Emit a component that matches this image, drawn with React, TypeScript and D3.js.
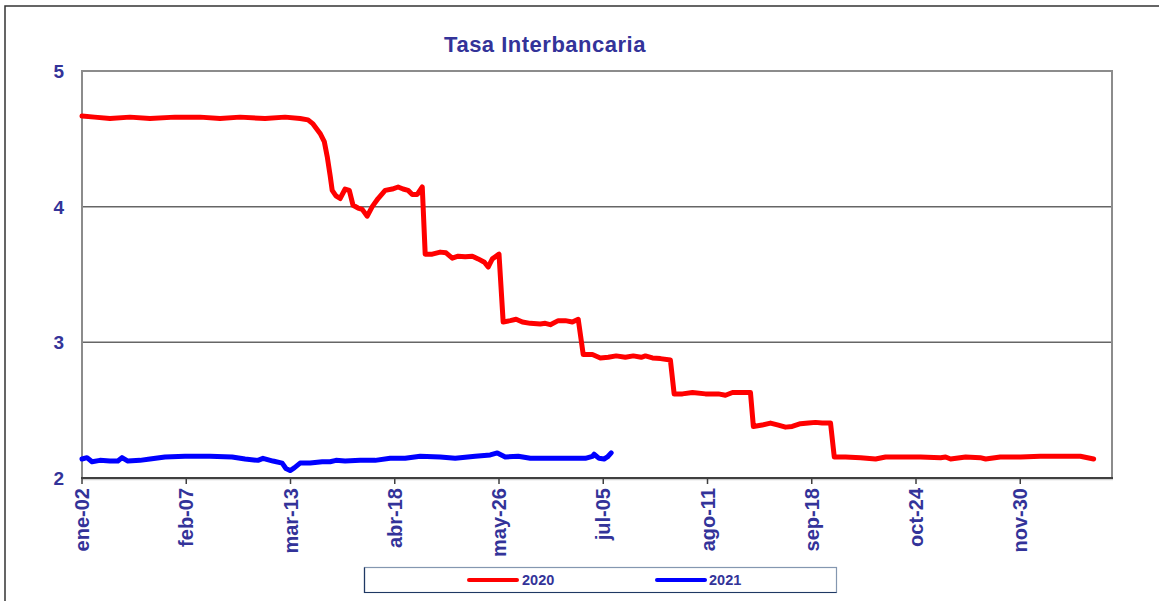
import * as d3 from "d3";

// trading-day index (x) and rate (%)
const days2020 = [
  0, 3, 6.7, 11.5, 16.3, 22.3, 28.3, 33.1, 37.9, 43.9, 48.7, 52.3, 54.2, 55.4, 57.1, 58.1, 58.8, 59.5, 60,
  60.9, 61.9, 63.1, 64.1, 65, 66.2, 67.2, 68.4, 69.6, 71, 72.7, 74.4, 75.8, 77, 78.2, 79.2, 80.4, 81.6,
  82.3, 84, 85.9, 87.3, 88.8, 90.2, 91.9, 93.6, 95, 96.5, 97.4, 98.4, 100,
  101, 102.7, 104.1, 105.6, 107.5, 109.9, 111.1, 112.3, 114.2, 115.9, 117.6, 119,
  120.2, 122.4, 124.3, 126.2, 128.1, 130.3, 132.2, 134.1, 135.1, 136.8, 138.7, 141.1,
  142, 144, 146.4, 149.5, 152.6, 154.3, 156, 158.3, 160.3,
  161, 163.1, 165.1, 167, 168.7, 170.3, 172.3, 174.2, 175.9, 177.5, 179.5,
  180.4, 183.1, 186.7, 190.3, 192.7, 196.3, 201.1, 205.9, 207.1, 208.3, 211.9, 215.4, 216.7, 220.2,
  225.1, 229.8, 234.6, 239.4, 242.6,
];
const rates2020 = [
  4.668, 4.66, 4.65, 4.66, 4.65, 4.66, 4.66, 4.65, 4.66, 4.65, 4.66, 4.65, 4.64, 4.61, 4.54, 4.48, 4.37, 4.23, 4.12,
  4.08, 4.06, 4.13, 4.12, 4.01, 3.99, 3.98, 3.93, 4.0, 4.06, 4.12, 4.13, 4.145, 4.13, 4.12, 4.09, 4.09, 4.145,
  3.65, 3.65, 3.665, 3.66, 3.62, 3.635, 3.63, 3.635, 3.615, 3.59, 3.555, 3.615, 3.65,
  3.15, 3.16, 3.17, 3.15, 3.14, 3.135, 3.14, 3.13, 3.16, 3.16, 3.15, 3.17,
  2.91, 2.91, 2.885, 2.89, 2.9, 2.89, 2.9, 2.89, 2.9, 2.885, 2.88, 2.87,
  2.62, 2.62, 2.63, 2.62, 2.62, 2.61, 2.63, 2.63, 2.63,
  2.38, 2.39, 2.405, 2.39, 2.375, 2.38, 2.4, 2.405, 2.41, 2.405, 2.405,
  2.155, 2.155, 2.15, 2.14, 2.155, 2.155, 2.155, 2.15, 2.155, 2.14, 2.155, 2.15, 2.14, 2.155,
  2.155, 2.16, 2.16, 2.16, 2.14,
];

const days2021 = [
  0, 1.2, 2.4, 4.3, 6.7, 8.6, 9.6, 11, 13.9, 16.3, 19.9, 24.7, 30.7, 36, 39.1, 42.2, 43.4, 45.8, 48,
  48.9, 49.9, 50.9, 52.3, 54.7, 57.6, 59.5, 60.9, 63.1, 66.7, 70.3, 73.9, 77.5, 81.1, 85.9, 89.5,
  94.3, 97.9, 99.6, 101.5, 104.6, 107.5, 114.7, 120.7, 122.4, 122.8, 124, 125.2, 126, 126.9,
];
const rates2021 = [
  2.14, 2.15, 2.12, 2.13, 2.125, 2.125, 2.15, 2.125, 2.13, 2.14, 2.155, 2.16, 2.16, 2.155, 2.14, 2.13, 2.145, 2.125, 2.11,
  2.07, 2.055, 2.075, 2.11, 2.11, 2.12, 2.12, 2.13, 2.125, 2.13, 2.13, 2.145, 2.145, 2.16, 2.155, 2.145,
  2.16, 2.17, 2.185, 2.155, 2.16, 2.145, 2.145, 2.145, 2.16, 2.175, 2.145, 2.14, 2.155, 2.185,
];

const tickDays = [0, 25, 50, 75, 100, 125, 150, 175, 200, 225];
const tickLabels = ["ene-02", "feb-07", "mar-13", "abr-18", "may-26", "jul-05", "ago-11", "sep-18", "oct-24", "nov-30"];
const yTicks = [2, 3, 4, 5];

const FONT = "'Liberation Sans', Arial, sans-serif";
const NAVY = "#333399";

export default function App() {
  const width = 1159;
  const height = 601;
  const left = 82, right = 1112, top = 71, bottom = 478;

  const x = d3.scaleLinear().domain([0, 247]).range([left, right]);
  const y = d3.scaleLinear().domain([2, 5]).range([bottom, top]);

  const line = d3
    .line<[number, number]>()
    .x((d) => x(d[0]))
    .y((d) => y(d[1]));

  const s2020 = days2020.map((d, i) => [d, rates2020[i]] as [number, number]);
  const s2021 = days2021.map((d, i) => [d, rates2021[i]] as [number, number]);

  return (
    <svg
      width={width}
      height={height}
      style={{ position: "absolute", left: 0, top: 0, background: "#fff" }}
      fontFamily={FONT}
    >
      <rect x={5} y={6} width={1300} height={700} fill="#fff" stroke="#333" strokeWidth={1.5} />

      <text x={545} y={52} textAnchor="middle" fontSize={22} fontWeight="bold" fill={NAVY} letterSpacing={0.5}>
        Tasa Interbancaria
      </text>

      {/* gridlines */}
      {yTicks
        .filter((t) => t > 2 && t < 5)
        .map((t) => (
          <line key={t} x1={left} x2={right} y1={y(t)} y2={y(t)} stroke="#666" strokeWidth={1.5} />
        ))}

      {/* plot frame */}
      <path
        d={`M${left},${bottom} V${top} H${right} V${bottom}`}
        fill="none"
        stroke="#8c8c8c"
        strokeWidth={2}
      />
      <line x1={left} x2={right + 1} y1={bottom + 1.5} y2={bottom + 1.5} stroke="#d0d0d0" strokeWidth={1.5} />
      <line x1={left - 1} x2={right + 1} y1={bottom} y2={bottom} stroke="#404040" strokeWidth={2} />

      {/* y labels */}
      {yTicks.map((t) => (
        <text key={t} x={64} y={y(t) + 7} textAnchor="end" fontSize={19} fontWeight="bold" fill={NAVY}>
          {t}
        </text>
      ))}

      {/* x ticks + labels */}
      {tickDays.map((d, i) => (
        <g key={d} transform={`translate(${x(d)},${bottom})`}>
          <line y1={0} y2={6} stroke="#404040" strokeWidth={1.5} />
          <text
            transform="rotate(-90)"
            x={-10}
            y={7}
            textAnchor="end"
            fontSize={20}
            fontWeight="bold"
            fill={NAVY}
          >
            {tickLabels[i]}
          </text>
        </g>
      ))}

      {/* series */}
      <path d={line(s2020) ?? ""} fill="none" stroke="#ff0000" strokeWidth={5} strokeLinejoin="round" strokeLinecap="round" />
      <path d={line(s2021) ?? ""} fill="none" stroke="#0000ff" strokeWidth={5} strokeLinejoin="round" strokeLinecap="round" />

      {/* legend */}
      <rect x={364.5} y={567.5} width={472} height={25} fill="#fff" stroke="#8497b0" strokeWidth={1.2} />
      <path d="M364.5,567.5 V592.5 H836.5" fill="none" stroke="#1f3864" strokeWidth={1.2} />
      <line x1={469} x2={517} y1={580} y2={580} stroke="#ff0000" strokeWidth={4} strokeLinecap="round" />
      <text x={522} y={585} fontSize={14.5} fontWeight="bold" fill={NAVY}>
        2020
      </text>
      <line x1={657} x2={705} y1={580} y2={580} stroke="#0000ff" strokeWidth={4} strokeLinecap="round" />
      <text x={709} y={585} fontSize={14.5} fontWeight="bold" fill={NAVY}>
        2021
      </text>
    </svg>
  );
}
